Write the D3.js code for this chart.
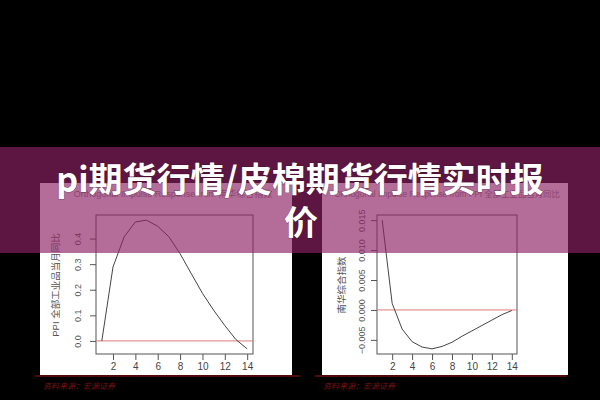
<!DOCTYPE html>
<html><head><meta charset="utf-8">
<script src="https://cdn.jsdelivr.net/npm/d3@7"></script>
<style>
html,body{margin:0;padding:0;background:#000;}
svg{display:block;}
</style></head>
<body>
<script>
// ---- data ----
const periods = [1,2,3,4,5,6,7,8,9,10,11,12,13,14];
const responsePPI = [0, 0.289, 0.407, 0.465, 0.472, 0.448, 0.407, 0.341, 0.263, 0.186, 0.12, 0.06, 0.005, -0.031];
const responseNanhua = [0.015, 0.0011, -0.0032, -0.0053, -0.0062, -0.0065, -0.0061, -0.0054, -0.0044, -0.0035, -0.0026, -0.0017, -0.0008, -0.0001];
const xTicks = [2,4,6,8,10,12,14];
const yTicksPPI = [0, 0.1, 0.2, 0.3, 0.4];
const yTicksNanhua = [-0.005, 0, 0.005, 0.010, 0.015];
const titles = ["Orthogonal Impulse Response from 南华综合指数", "Orthogonal Impulse Response from PPI 全部工业品当月同比"];
const yLabels = ["PPI 全部工业品当月同比", "南华综合指数"];
const sourceText = "资料来源：宏源证券";
const headline1 = "pi期货行情/皮棉期货行情实时报";
const headline2 = "价";

const W = 600, H = 400;
const svg = d3.select("body").append("svg").attr("width", W).attr("height", H);
svg.append("rect").attr("width", W).attr("height", H).attr("fill", "#000");

const panels = [
  {px:40, pw:252, box:[96,253,215,354], values:responsePPI, yTicks:yTicksPPI, fmt:d3.format(".1f"),
   title:titles[0], titleX:173, titleSize:9, ylab:yLabels[0], ylabX:55, tickLabX:78, srcLine:[35,300], srcX:43},
  {px:322, pw:246, box:[377,517,215,354], values:responseNanhua, yTicks:yTicksNanhua, fmt:d3.format(".3f"),
   title:titles[1], titleX:447, titleSize:8.4, ylab:yLabels[1], ylabX:341, tickLabX:362, srcLine:[315,567], srcX:323}
];

const font = "'Liberation Sans', Arial, 'Noto Sans CJK SC', sans-serif";

panels.forEach(p => {
  const g = svg.append("g");
  g.append("rect").attr("x", p.px).attr("y", 183).attr("width", p.pw).attr("height", 192).attr("fill", "#fff");
  // title
  g.append("text").attr("x", p.titleX).attr("y", 197).attr("text-anchor", "middle")
    .attr("font-family", font).attr("font-size", p.titleSize).attr("fill", "#888").text(p.title);

  const [x0, x1, y0, y1] = p.box;
  const ext = d3.extent(p.values);
  const pad = (ext[1] - ext[0]) * 0.04;
  const x = d3.scaleLinear().domain([1 - 13*0.04, 14 + 13*0.04]).range([x0, x1]);
  const y = d3.scaleLinear().domain([ext[0] - pad, ext[1] + pad]).range([y1, y0]);

  // box
  g.append("rect").attr("x", x0).attr("y", y0).attr("width", x1 - x0).attr("height", y1 - y0)
    .attr("fill", "none").attr("stroke", "#555").attr("stroke-width", 1);

  // x axis
  const xa = g.append("g").attr("transform", `translate(0,${y1})`)
    .call(d3.axisBottom(x).tickValues(xTicks).tickSize(6).tickPadding(3));
  xa.select(".domain").remove();
  xa.selectAll("line").attr("stroke", "#555");
  xa.selectAll("text").attr("font-family", font).attr("font-size", 10).attr("fill", "#444");

  // y axis
  const ya = g.append("g").attr("transform", `translate(${x0},0)`)
    .call(d3.axisLeft(y).tickValues(p.yTicks).tickFormat(p.fmt).tickSize(6));
  ya.select(".domain").remove();
  ya.selectAll("line").attr("stroke", "#555");
  ya.selectAll(".tick text").attr("font-family", font).attr("font-size", 9).attr("fill", "#555")
    .attr("x", 0).attr("y", 0).attr("dy", null)
    .attr("text-anchor", "middle").attr("dominant-baseline", "central")
    .attr("transform", `translate(${p.tickLabX - x0},0) rotate(-90)`);

  // y label
  g.append("text").attr("transform", `translate(${p.ylabX},285) rotate(-90)`)
    .attr("text-anchor", "middle").attr("dominant-baseline", "central")
    .attr("font-family", font).attr("font-size", 9.5).attr("fill", "#555").text(p.ylab);

  // zero line
  g.append("line").attr("x1", x0).attr("x2", x1).attr("y1", y(0)).attr("y2", y(0))
    .attr("stroke", "#e07a7a").attr("stroke-width", 1);

  // response line
  g.append("path").datum(periods.map((t, i) => [t, p.values[i]]))
    .attr("d", d3.line().x(d => x(d[0])).y(d => y(d[1])))
    .attr("fill", "none").attr("stroke", "#444").attr("stroke-width", 1);

  // source line & text
  g.append("line").attr("x1", p.srcLine[0]).attr("x2", p.srcLine[1]).attr("y1", 376).attr("y2", 376)
    .attr("stroke", "#6e0c0c").attr("stroke-width", 1.5);
  g.append("text").attr("x", p.srcX).attr("y", 389).attr("font-family", "'Noto Sans CJK SC', sans-serif")
    .attr("font-size", 8).attr("font-style", "italic").attr("fill", "#7a1414").text(sourceText);
});

// overlay band
svg.append("rect").attr("x", 0).attr("y", 147).attr("width", W).attr("height", 106)
  .attr("fill", "rgb(140,34,98)").attr("fill-opacity", 0.66);

// headline
const hl = svg.append("g").attr("font-family", "'Noto Sans CJK SC', sans-serif").attr("font-weight", 700)
  .attr("font-size", 34).attr("fill", "#fff").attr("text-anchor", "middle")
  .attr("stroke", "rgba(40,0,20,0.35)").attr("stroke-width", 1.2).attr("paint-order", "stroke");
hl.append("text").attr("x", 300).attr("y", 192).text(headline1);
hl.append("text").attr("x", 301).attr("y", 235).text(headline2);
</script>
</body></html>
